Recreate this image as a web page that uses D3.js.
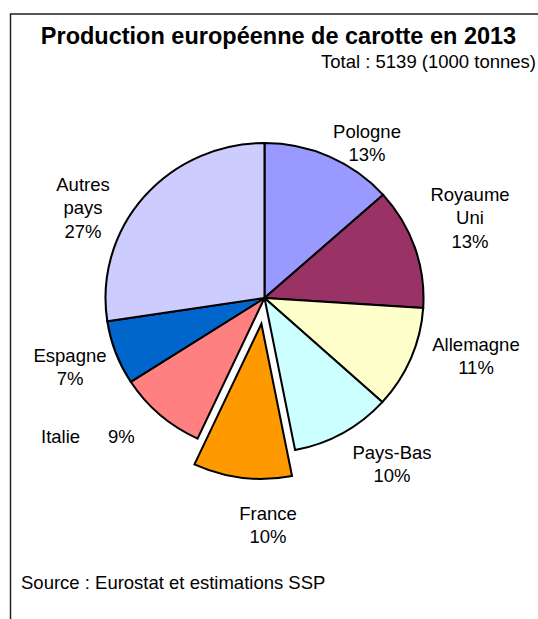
<!DOCTYPE html>
<html>
<head>
<meta charset="utf-8">
<script src="https://cdn.jsdelivr.net/npm/d3@7"></script>
<style>
  body { margin: 0; background: #fff; }
  svg text { font-family: "Liberation Sans", Arial, sans-serif; fill: #000; }
</style>
</head>
<body>
<svg id="chart" width="538" height="619"></svg>
<script>
// production de carotte 2013, en 1000 tonnes (total 5139)
var pays = ["Pologne", "Royaume Uni", "Allemagne", "Pays-Bas", "France", "Italie", "Espagne", "Autres pays"];
var production = [689, 648, 550, 524, 514, 462, 344, 1408];
var couleurs = ["#9999FF", "#993366", "#FFFFCC", "#CCFFFF", "#FF9900", "#FF8080", "#0066CC", "#CCCCFF"];
var exploded = "France";

// label layout (lines split the way the original wraps them)
var labelLayout = {
  "Pologne":     { x: 367, y: 138, lines: ["Pologne"] },
  "Royaume Uni": { x: 470, y: 201, lines: ["Royaume", "Uni"] },
  "Allemagne":   { x: 476, y: 351, lines: ["Allemagne"] },
  "Pays-Bas":    { x: 392, y: 459, lines: ["Pays-Bas"] },
  "France":      { x: 268, y: 520, lines: ["France"] },
  "Espagne":     { x: 70,  y: 362, lines: ["Espagne"] },
  "Autres pays": { x: 83,  y: 191, lines: ["Autres", "pays"] }
};

var total = d3.sum(production);
var data = pays.map(function(p, i){ return { name: p, value: production[i], color: couleurs[i] }; });

var svg = d3.select("#chart");

// frame (only top and left visible)
svg.append("path")
  .attr("d", "M10.5,619 L10.5,14 L538,14")
  .attr("fill", "none")
  .attr("stroke", "#222")
  .attr("stroke-width", 1.5);

svg.append("text")
  .attr("x", 278.5).attr("y", 43.5)
  .attr("text-anchor", "middle")
  .style("font-weight", "bold")
  .style("font-size", "23.5px")
  .text("Production européenne de carotte en 2013");

svg.append("text")
  .attr("x", 536).attr("y", 68)
  .attr("text-anchor", "end")
  .style("font-size", "18.5px")
  .text("Total : " + total + " (1000 tonnes)");

svg.append("text")
  .attr("x", 21).attr("y", 588.5)
  .style("font-size", "18.5px")
  .text("Source : Eurostat et estimations SSP");

// pie
var cx = 264.5, cy = 298, r = 155, sx = 159 / 155;
var pie = d3.pie().sort(null).value(function(d){ return d.value; });
var arc = d3.arc().innerRadius(0).outerRadius(r);
var arcs = pie(data);

var g = svg.append("g")
  .attr("transform", "translate(" + cx + "," + cy + ") scale(" + sx + ",1)");

g.selectAll("path")
  .data(arcs)
  .enter().append("path")
  .attr("d", arc)
  .attr("fill", function(d){ return d.data.color; })
  .attr("stroke", "#000")
  .attr("stroke-width", 2)
  .attr("stroke-linejoin", "miter")
  .attr("transform", function(d){
    if (d.data.name !== exploded) return null;
    var a = (d.startAngle + d.endAngle) / 2, off = 26;
    return "translate(" + (Math.sin(a) * off / sx) + "," + (-Math.cos(a) * off) + ")";
  });

// labels
var fmt = function(v){ return Math.round(v / total * 100) + "%"; };
var lh = 23.3;

arcs.forEach(function(d){
  var name = d.data.name;
  var L = labelLayout[name];
  if (!L) return;
  var t = svg.append("text")
    .attr("text-anchor", "middle")
    .style("font-size", "18.5px");
  var lines = L.lines.concat([fmt(d.data.value)]);
  lines.forEach(function(s, i){
    t.append("tspan").attr("x", L.x).attr("y", L.y + i * lh).text(s);
  });
});

// Italie is written on one line in the original
var italie = data.filter(function(d){ return d.name === "Italie"; })[0];
var ti = svg.append("text").style("font-size", "18.5px");
ti.append("tspan").attr("x", 41).attr("y", 443).text("Italie");
ti.append("tspan").attr("x", 108).attr("y", 443).text(fmt(italie.value));
</script>
</body>
</html>
